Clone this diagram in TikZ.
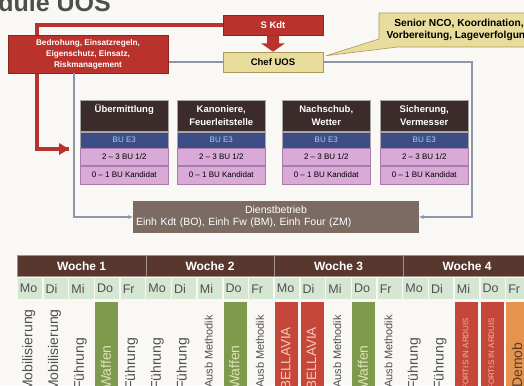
\documentclass[tikz,border=0pt]{standalone}
\usepackage{fontspec}
\setmainfont{Liberation Sans}
\usetikzlibrary{arrows.meta,calc}
\pgfdeclarelayer{background}
\pgfsetlayers{background,main}
\definecolor{bg}{HTML}{FAF8F5}
\definecolor{kred}{HTML}{B9322B}
\definecolor{kredd}{HTML}{8E2420}
\definecolor{kyel}{HTML}{E8DD9C}
\definecolor{kyeld}{HTML}{A89A5A}
\definecolor{kline}{HTML}{8C96A8}
\definecolor{kdark}{HTML}{3B2B2A}
\definecolor{kblue}{HTML}{3F4D86}
\definecolor{kbluet}{HTML}{9FD2F2}
\definecolor{kpink}{HTML}{D9A9D8}
\definecolor{kpinkd}{HTML}{A77CA8}
\definecolor{kbrown}{HTML}{7C6B63}
\definecolor{khead}{HTML}{58372F}
\definecolor{kday}{HTML}{D5E7D3}
\definecolor{kgreen}{HTML}{7E9A4C}
\definecolor{kredc}{HTML}{C4473A}
\definecolor{korange}{HTML}{E5944F}
\definecolor{ktext}{HTML}{505050}
\definecolor{ktitle}{HTML}{4E4E4E}
\definecolor{tgreen}{HTML}{DDE3B8}
\definecolor{tred}{HTML}{F4C9BC}
\definecolor{tfort}{HTML}{F0B4A2}
\definecolor{tdemob}{HTML}{5C3A28}
\tikzset{
 redbox/.style={draw=kredd, line width=0.6, fill=kred, text=white, font=\fontsize{9.5}{11}\selectfont\bfseries, inner sep=0},
 yelbox/.style={draw=kyeld, line width=0.6, fill=kyel, text=black, font=\fontsize{9.5}{11}\selectfont\bfseries, inner sep=0},
 redline/.style={kred, line width=4, line join=miter},
 bline/.style={kline, line width=1.3},
 unithead/.style={fill=kdark, draw=gray!70, line width=0.5, text=white, font=\fontsize{9.5}{12.5}\selectfont\bfseries, minimum width=88, minimum height=31, inner sep=0, align=center, anchor=north west},
 bucell/.style={fill=kblue, text=kbluet, font=\fontsize{8}{9}\selectfont, minimum width=88, minimum height=16, inner sep=0, anchor=north west, draw=gray!70, line width=0.5},
 pinkcell/.style={fill=kpink, text=black, font=\fontsize{8}{9}\selectfont, minimum width=88, inner sep=0, anchor=north west, draw=kpinkd, line width=0.5},
 weekhead/.style={fill=khead, draw=khead!55!white, line width=0.7, text=white, font=\fontsize{12}{14}\selectfont\bfseries, minimum width=128.5, minimum height=21, inner sep=0, anchor=north west},
 daycell/.style={fill=kday, minimum width=24.2, minimum height=21, inner sep=0, anchor=north west},
 daytext/.style={text=ktext, font=\fontsize{12.5}{14}\selectfont, anchor=west, inner sep=0},
 actcell/.style={minimum width=23, minimum height=90, inner sep=0, anchor=north west},
 acttext/.style={rotate=90, anchor=west, inner sep=0},
}
\begin{document}
\begin{tikzpicture}[x=1pt,y=-1pt]
\useasboundingbox (0,0) rectangle (524,385);
\clip (0,0) rectangle (524,385);
\begin{pgfonlayer}{background}
\fill[bg] (0,0) rectangle (524,385);
\end{pgfonlayer}

% title (cut at top)
\node[anchor=base east, inner sep=0, text=ktitle, font=\fontsize{25}{25}\selectfont\bfseries] (title) at (111,12) {Module UOS};

% top boxes
\node[redbox, minimum width=100, minimum height=20] (skdt) at (273,25) {S Kdt};
\node[redbox, minimum width=160, minimum height=38, align=center, font=\fontsize{8.2}{11}\selectfont\bfseries] (bedr) at (88,54) {Bedrohung, Einsatzregeln,\\Eigenschutz, Einsatz,\\Riskmanagement};
\node[yelbox, minimum width=100, minimum height=20] (chef) at (273,62) {Chef UOS};

% block arrow S Kdt -> Chef UOS
\fill[kred] ($(skdt.south)+(-6,0)$) -- ($(skdt.south)+(6,0)$) -- ($(skdt.south)+(6,8)$) -- ($(skdt.south)+(12,8)$)
  -- (chef.north) -- ($(skdt.south)+(-12,8)$) -- ($(skdt.south)+(-6,8)$) -- cycle;

% callout
\coordinate (ctip) at ($(chef.north east)+(3,4)$);
\filldraw[fill=kyel, draw=kyeld, line width=0.6] (379,13) -- (560,13) -- (560,47) -- (398,47) -- (ctip) -- (379,39) -- cycle;
\node[inner sep=0, align=center, font=\fontsize{10.2}{12.5}\selectfont\bfseries] (senior) at (459,30) {Senior NCO, Koordination,\\Vorbereitung, Lageverfolgung};

% unit columns
\foreach \x/\n/\t in {80/a/{Übermittlung\\\phantom{Ag}}, 177/b/{Kanoniere,\\Feuerleitstelle}, 282/c/{Nachschub,\\Wetter}, 380/d/{Sicherung,\\Vermesser}} {
 \node[unithead] (h\n) at (\x,100) {\t};
 \node[bucell] (b\n) at (h\n.south west) {BU E3};
 \node[pinkcell, minimum height=17] (p\n) at (b\n.south west) {2 – 3 BU 1/2};
 \node[pinkcell, minimum height=18] (q\n) at (p\n.south west) {0 – 1 BU Kandidat};
}

% Dienstbetrieb
\node[fill=kbrown, text=white, minimum width=286, minimum height=32, inner sep=0, text width=280, align=left, font=\fontsize{10.5}{11.5}\selectfont] (dienst) at (276,217) {{\centering Dienstbetrieb\par}Einh Kdt (BO), Einh Fw (BM), Einh Four (ZM)};

% connectors
\begin{pgfonlayer}{background}
\draw[redline] (skdt.west) -- (37,25) -- (37,149) coordinate (rc) -- ($(rc)+(32,0)$) coordinate (redend);
\draw[bline] (bedr.east |- chef.west) -- (chef.west);
\end{pgfonlayer}
\fill[kred] (redend) -- ++(-10,-6) -- ++(0,12) -- cycle;
\draw[bline, -{Stealth[length=5,width=4]}] (chef.east) -- (472,62) |- (dienst.east);
\draw[bline, -{Stealth[length=5,width=4]}] (bedr.south -| 74,0) |- (dienst.west);

% schedule
\foreach \k in {0,...,3} {
 \pgfmathsetmacro\W{17+128.5*\k}
 \pgfmathtruncatemacro\kk{\k+1}
 \node[weekhead] (wk\kk) at (\W,255) {Woche \kk};
 \foreach \d [count=\i from 0] in {Mo,Di,Mi,Do,Fr} {
   \pgfmathsetmacro\X{\W+25.7*\i+0.75}
   \node[daycell] (d\kk\i) at (\X,278) {};
   \node[daytext] (dt\kk\i) at ($(d\kk\i.west)+(2,0)$) {\d};
 }
}
\foreach \k/\i/\txt/\fc/\tc/\fs/\y in {
 0/0/Mobilisierung/none/ktext/14/392, 0/1/Mobilisierung/none/ktext/14/392, 0/2/Führung/none/ktext/14/390, 0/3/Waffen/kgreen/tgreen/14/389, 0/4/Führung/none/ktext/14/390,
 1/0/Führung/none/ktext/14/390, 1/1/Führung/none/ktext/14/390, 1/2/Ausb Methodik/none/ktext/11/388, 1/3/Waffen/kgreen/tgreen/14/389, 1/4/Ausb Methodik/none/ktext/11/388,
 2/0/BELLAVIA/kredc/tred/13.5/390, 2/1/BELLAVIA/kredc/tred/13.5/390, 2/2/Ausb Methodik/none/ktext/11/388, 2/3/Waffen/kgreen/tgreen/14/389, 2/4/Ausb Methodik/none/ktext/11/388,
 3/0/Führung/none/ktext/14/390, 3/1/Führung/none/ktext/14/390, 3/2/FORTIS IN ARDUIS/kredc/tfort/8/390, 3/3/FORTIS IN ARDUIS/kredc/tfort/8/390, 3/4/Demob/korange/tdemob/14/388} {
 \pgfmathsetmacro\X{17+128.5*\k+25.7*\i+0.75}
 \node[actcell, fill=\fc] (c\k\i) at (\X,302) {};
 \node[acttext, text=\tc, font=\fontsize{\fs}{\fs}\selectfont] (t\k\i) at (\X+11,\y) {\txt};
}
\end{tikzpicture}
\end{document}
